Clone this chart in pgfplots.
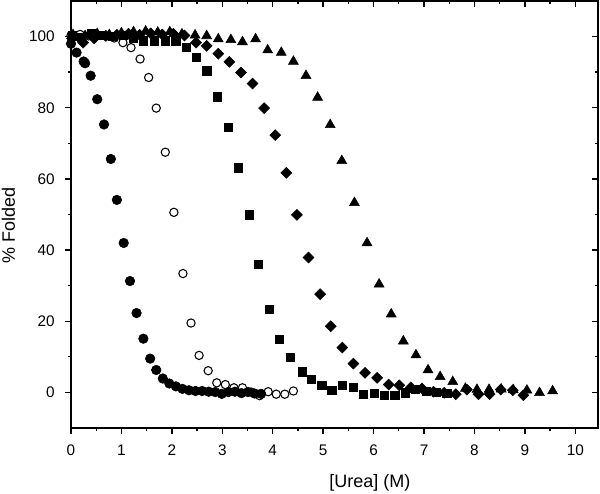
\documentclass[border=0pt]{standalone}
\usepackage{fontspec}
\setmainfont{Liberation Sans}
\usepackage{pgfplots}
\pgfplotsset{compat=1.18}

\begin{document}
\begin{tikzpicture}
\pgfplotsset{
  frame/.style={
    scale only axis, width=395.25pt, height=320.25pt,
    xmin=0, xmax=10.45, ymin=-10, ymax=110,
    xtick={0,1,...,10}, minor x tick num=1,
    ytick={0,20,...,100}, minor y tick num=1,
    axis line style={line width=1.2pt},
    major tick length=4.2pt, minor tick length=2.6pt,
    every tick/.style={black, line width=1pt},
  },
}
% top and right ticks point inwards
\begin{axis}[frame, tick align=inside, xtick pos=right, ytick pos=right,
  xticklabels={}, yticklabels={}]
\end{axis}
\begin{axis}[frame, tick align=outside, xtick pos=left, ytick pos=left,
  /pgf/number format/assume math mode=true,
  tick label style={font=\fontsize{11.5}{13}\selectfont},
  xticklabel style={yshift=-5pt},
  yticklabel style={xshift=-4.5pt},
  label style={font=\fontsize{13.5}{16}\selectfont},
  xlabel={[Urea] (M)}, ylabel={\% Folded},
  xlabel style={at={(axis description cs:0.567,-0.1382)}, anchor=base},
  ylabel style={at={(axis description cs:-0.1063,0.475)}, anchor=base},
  clip=false]
\addplot[only marks, mark=*, mark size=3.6pt, black] coordinates {
(0.00,98.0) (0.11,95.5) (0.25,93.0) (0.28,92.5) (0.39,89.0) (0.52,82.4) (0.655,75.3) (0.79,65.6)
(0.91,54.1) (1.045,42.0) (1.17,31.3) (1.30,22.3) (1.435,15.1) (1.57,9.5) (1.69,6.3)
(1.82,3.9) (1.95,2.5) (2.08,1.7) (2.21,1.0) (2.34,0.6) (2.47,0.4) (2.60,0.4) (2.73,0.2)
(2.86,0.1) (2.99,-0.4) (3.12,0.1) (3.25,0.2) (3.38,-0.2) (3.51,0.1) (3.64,-0.3) (3.77,-0.4)};
\addplot[only marks, mark=o, mark size=3.1pt, black, mark options={line width=0.8pt}] coordinates {
(0.0,100.3) (0.18,100.6) (0.35,100.2) (0.52,100.5) (0.69,100.1) (0.86,99.6) (1.03,98.3)
(1.19,96.9) (1.37,93.7) (1.54,88.5) (1.69,79.9) (1.87,67.5) (2.04,50.6) (2.22,33.4)
(2.38,19.5) (2.54,10.4) (2.72,6.1) (2.89,2.7) (3.06,2.2) (3.23,1.3) (3.40,1.3) (3.57,0.1)
(3.74,-0.9) (3.91,0.2) (4.07,-0.5) (4.24,-0.5) (4.41,0.4)};
\addplot[only marks, mark=square*, mark size=3.1pt, black] coordinates {
(0.03,100.2) (0.21,99.8) (0.41,101.0) (0.62,100.3) (0.83,100.0) (1.03,100.4) (1.23,99.6)
(1.43,98.8) (1.65,98.8) (1.87,98.8) (2.08,98.8) (2.28,96.9) (2.49,94.1) (2.69,90.4)
(2.90,83.1) (3.12,74.5) (3.31,63.1) (3.53,49.9) (3.72,36.0) (3.93,23.3) (4.13,14.9)
(4.35,9.8) (4.58,5.8) (4.76,3.7) (4.97,2.0) (5.17,0.6) (5.38,2.0) (5.59,1.4) (5.80,-0.5)
(6.01,-0.2) (6.21,-0.9) (6.42,-0.9) (6.63,-0.1) (6.83,0.8) (7.04,0.3) (7.25,0.0) (7.45,-0.2)};
\addplot[only marks, mark=square*, mark size=2.9pt, mark options={rotate=45}, black] coordinates {
(0.02,99.5) (0.24,98.3) (0.46,99.5) (0.69,100.2) (0.91,100.5) (1.14,100.8) (1.36,100.5)
(1.58,100.9) (1.81,100.6) (2.03,100.8) (2.25,100.3) (2.48,98.3) (2.69,97.4) (2.92,95.2)
(3.14,92.9) (3.37,89.9) (3.60,86.8) (3.83,79.9) (4.05,72.3) (4.27,61.7) (4.48,49.9)
(4.71,37.9) (4.94,27.6) (5.15,18.6) (5.38,12.6) (5.60,8.1) (5.83,5.5) (6.07,4.1) (6.30,2.2)
(6.51,2.0) (6.74,1.4) (6.96,1.1) (7.19,0.2) (7.40,-0.1) (7.63,-0.5) (7.85,0.8) (8.08,-0.5)
(8.30,-0.5) (8.52,0.8) (8.76,0.6) (8.97,-0.8)};
\addplot[only marks, mark=triangle*, mark size=4.3pt, black] coordinates {
(0.04,100.5) (0.28,100.2) (0.52,100.8) (0.76,100.5) (1.00,101.0) (1.24,101.3) (1.48,101.5)
(1.72,101.2) (1.96,101.3) (2.20,100.7) (2.46,100.4) (2.69,100.2) (2.92,99.3) (3.17,99.1)
(3.40,98.5) (3.66,99.3) (3.90,96.2) (4.17,95.5) (4.41,93.0) (4.66,89.0) (4.89,82.9)
(5.14,75.2) (5.37,65.1) (5.62,53.3) (5.87,42.0) (6.11,30.4) (6.35,22.0) (6.59,14.4)
(6.84,10.5) (7.08,6.3) (7.32,4.4) (7.57,3.0) (7.82,1.1) (8.05,0.8) (8.29,0.8) (8.53,0.9)
(8.77,0.7) (9.04,0.6) (9.29,-0.1) (9.55,0.4)};
\end{axis}
\pgfresetboundingbox
\useasboundingbox (-53.25pt,-48.75pt) rectangle (396.75pt,321pt);
\end{tikzpicture}
\end{document}
